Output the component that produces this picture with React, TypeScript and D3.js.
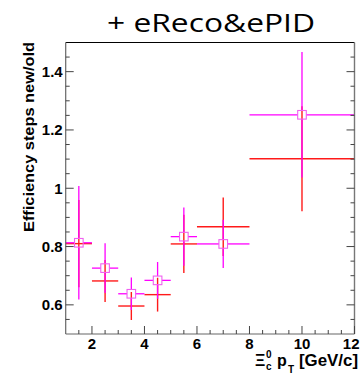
import React from "react";
import * as d3 from "d3";

const binLo = [1, 2, 3, 4, 5, 6, 8];
const binHi = [2, 3, 4, 5, 6, 8, 12];
const binCenter = [1.5, 2.5, 3.5, 4.5, 5.5, 7, 10];
const magentaY = [0.813, 0.726, 0.638, 0.684, 0.834, 0.809, 1.252];
const magentaErr = [0.195, 0.085, 0.056, 0.063, 0.1, 0.083, 0.215];
const redY = [0.81, 0.682, 0.596, 0.635, 0.809, 0.868, 1.101];
const redErr = [0.15, 0.072, 0.048, 0.058, 0.1, 0.1, 0.18];
const yTickLabels = ["0.6", "0.8", "1", "1.2", "1.4"];
const yTickValues = [0.6, 0.8, 1.0, 1.2, 1.4];
const xTickValues = [2, 4, 6, 8, 10, 12];
const xTickLabels = ["2", "4", "6", "8", "10", "12"];

const W = 360;
const H = 376;
const L = 65.7;
const R = 354.5;
const T = 42.5;
const B = 334;

export default function App() {
  const x = d3.scaleLinear().domain([1, 12]).range([L, R]);
  const y = d3.scaleLinear().domain([0.5, 1.5]).range([B, T]);
  const ms = 4.3;
  const magenta = "#ff00ff";
  const red = "#ff1a1a";
  const axisColor = "#444";
  const font = "'Liberation Sans', Arial, sans-serif";

  const yMinor = d3.range(0.55, 1.5, 0.05).filter((v) => !yTickValues.some((t) => Math.abs(t - v) < 1e-6));
  const xMinor = d3.range(1.5, 12, 0.5).filter((v) => !xTickValues.some((t) => Math.abs(t - v) < 1e-6));

  return (
    <svg width={W} height={H} style={{ position: "absolute", left: 0, top: 0, background: "#fff" }}>
      {/* title */}
      <text x={107} y={32} fontFamily="'Open Sans', 'Noto Sans', sans-serif" fontSize={26} textLength={208} lengthAdjust="spacingAndGlyphs" fill="#000">
        + eReco&amp;ePID
      </text>

      {/* red series */}
      {binCenter.map((c, i) => (
        <g key={"r" + i} stroke={red} strokeWidth={1.4}>
          <line x1={x(binLo[i])} x2={x(binHi[i])} y1={y(redY[i])} y2={y(redY[i])} />
          <line x1={x(c)} x2={x(c)} y1={y(redY[i] - redErr[i])} y2={y(redY[i] + redErr[i])} />
        </g>
      ))}

      {/* magenta series */}
      {binCenter.map((c, i) => {
        const cx = x(c);
        const cy = y(magentaY[i]);
        return (
          <g key={"m" + i} stroke={magenta} strokeWidth={1.3} fill="none">
            <line x1={x(binLo[i])} x2={cx - ms} y1={cy} y2={cy} />
            <line x1={cx + ms} x2={x(binHi[i])} y1={cy} y2={cy} />
            <line x1={cx} x2={cx} y1={y(magentaY[i] + magentaErr[i])} y2={cy - ms} />
            <line x1={cx} x2={cx} y1={cy + ms} y2={y(magentaY[i] - magentaErr[i])} />
            <rect x={cx - ms} y={cy - ms} width={2 * ms} height={2 * ms} stroke="#f060f0" strokeWidth={1.1} />
          </g>
        );
      })}

      {/* frame */}
      <line x1={L} x2={R} y1={T} y2={T} stroke="#000" strokeWidth={1} />
      <line x1={L} x2={L} y1={T} y2={B} stroke="#666" strokeWidth={1.2} />
      <line x1={R} x2={R} y1={T} y2={B} stroke="#777" strokeWidth={1.4} />
      <line x1={L} x2={R} y1={B} y2={B} stroke="#666" strokeWidth={1.2} />

      {/* y ticks */}
      {yTickValues.map((v) => (
        <g key={"yt" + v} stroke={axisColor} strokeWidth={1}>
          <line x1={L} x2={L + 8} y1={y(v)} y2={y(v)} />
          <line x1={R} x2={R - 8} y1={y(v)} y2={y(v)} />
        </g>
      ))}
      {yMinor.map((v) => (
        <g key={"ym" + v} stroke={axisColor} strokeWidth={1}>
          <line x1={L} x2={L + 4} y1={y(v)} y2={y(v)} />
          <line x1={R} x2={R - 4} y1={y(v)} y2={y(v)} />
        </g>
      ))}
      {yTickValues.map((v, i) => (
        <text key={"yl" + v} x={L - 3} y={y(v)} dy="0.36em" textAnchor="end" fontFamily={font} fontWeight="bold" fontSize={15} fill="#000">
          {yTickLabels[i]}
        </text>
      ))}

      {/* x ticks */}
      {xTickValues.map((v) => (
        <line key={"xt" + v} x1={x(v)} x2={x(v)} y1={B} y2={B - 8} stroke={axisColor} strokeWidth={1} />
      ))}
      {xMinor.map((v) => (
        <line key={"xm" + v} x1={x(v)} x2={x(v)} y1={B} y2={B - 4} stroke={axisColor} strokeWidth={1} />
      ))}
      {xTickValues.map((v, i) => {
        const last = i === xTickValues.length - 1;
        return (
          <text key={"xl" + v} x={last ? 359.5 : x(v)} y={348.5} textAnchor={last ? "end" : "middle"} fontFamily={font} fontWeight="bold" fontSize={15} fill="#000">
            {xTickLabels[i]}
          </text>
        );
      })}

      {/* y title */}
      <text transform="translate(33.5,42) rotate(-90)" textAnchor="end" fontFamily={font} fontWeight="bold" fontSize={15} textLength={190} lengthAdjust="spacingAndGlyphs" fill="#000">
        Efficiency steps new/old
      </text>

      {/* x title */}
      <g fontFamily={font} fontWeight="bold" fill="#000">
        <text x={255} y={366} fontSize={16}>Ξ</text>
        <text x={266} y={370} fontSize={10}>c</text>
        <text x={266} y={357.5} fontSize={10}>0</text>
        <text x={277} y={366} fontSize={16}>p</text>
        <text x={288} y={373} fontSize={10}>T</text>
        <text x={299} y={366} fontSize={16} textLength={59} lengthAdjust="spacingAndGlyphs">[GeV/c]</text>
      </g>
    </svg>
  );
}
